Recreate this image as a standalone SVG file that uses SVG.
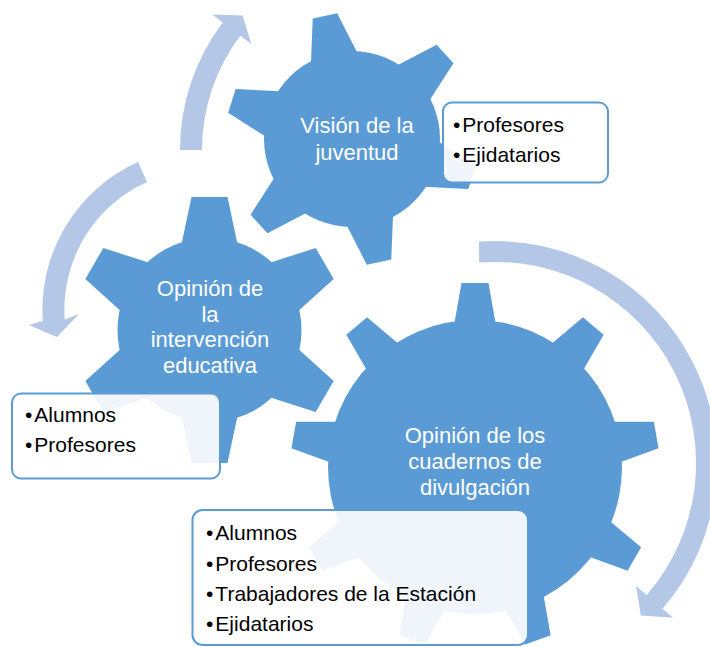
<svg xmlns="http://www.w3.org/2000/svg" xmlns:xlink="http://www.w3.org/1999/xlink" width="710" height="647" viewBox="0 0 710 647">
  <style>
    .gear { fill: #5b9bd5; }
    .arrow { fill: #b4c7e7; }
    .glabel { font-family: "Liberation Sans", Arial, sans-serif; font-size: 22px; fill: #ffffff; text-anchor: middle; }
    .box { fill: #ffffff; fill-opacity: 0.9; stroke: #5b9bd5; stroke-width: 2; }
    .item { font-family: "Liberation Sans", Arial, sans-serif; font-size: 21px; fill: #000000; }
  </style>
  <defs>
    <polygon id="tooth9" points="-21.6,-138 -13.5,-184 13.5,-184 21.6,-138"/>
    <polygon id="toothTop" points="-25.1,-78 -12.5,-126 12.5,-126 25.1,-78"/>
    <polygon id="toothLeft" points="-28.2,-85 -18,-133 18,-133 28.2,-85"/>
  </defs>
  <rect width="710" height="647" fill="#ffffff"/>

  <g id="connectors">
    <path class="arrow" d="M 180 150 A 212 212 0 0 1 222.7 22.4 L 212.3 14.6 L 242.6 15.5 L 251.4 44.1 L 240.3 35.7 A 190 190 0 0 0 202 150 Z"/>
    <path class="arrow" d="M 138 162 A 162 162 0 0 0 42.8 321 L 29 325 L 57 337 L 79 314 L 64.7 319.5 A 140 140 0 0 1 147 182 Z"/>
    <path class="arrow" d="M 479 241.6 A 222 222 0 0 1 662.5 608.7 L 673.1 617.8 L 640.8 615.6 L 636.1 585.7 L 646.7 594.9 A 201 201 0 0 0 479 262.6 Z"/>
  </g>

  <g id="gear-vision">
    <g class="gear" transform="translate(352,139)">
      <circle r="88"/>
      <use xlink:href="#toothTop" transform="rotate(-12.4)"/>
      <use xlink:href="#toothTop" transform="rotate(47.6)"/>
      <use xlink:href="#toothTop" transform="rotate(107.6)"/>
      <use xlink:href="#toothTop" transform="rotate(167.6)"/>
      <use xlink:href="#toothTop" transform="rotate(227.6)"/>
      <use xlink:href="#toothTop" transform="rotate(287.6)"/>
    </g>
    <text class="glabel" x="357" y="133">Visión de la</text>
    <text class="glabel" x="357" y="160">juventud</text>
  </g>

  <g id="gear-intervencion">
    <g class="gear" transform="translate(209.5,330)">
      <circle r="92"/>
      <use xlink:href="#toothLeft"/>
      <use xlink:href="#toothLeft" transform="rotate(60)"/>
      <use xlink:href="#toothLeft" transform="rotate(120)"/>
      <use xlink:href="#toothLeft" transform="rotate(180)"/>
      <use xlink:href="#toothLeft" transform="rotate(240)"/>
      <use xlink:href="#toothLeft" transform="rotate(300)"/>
    </g>
    <text class="glabel" x="210" y="296">Opinión de</text>
    <text class="glabel" x="210" y="322">la</text>
    <text class="glabel" x="210" y="347">intervención</text>
    <text class="glabel" x="210" y="373">educativa</text>
  </g>

  <g id="gear-cuadernos">
    <g class="gear" transform="translate(475,467)">
      <circle r="147"/>
      <use xlink:href="#tooth9"/>
      <use xlink:href="#tooth9" transform="rotate(40)"/>
      <use xlink:href="#tooth9" transform="rotate(80)"/>
      <use xlink:href="#tooth9" transform="rotate(120)"/>
      <use xlink:href="#tooth9" transform="rotate(160)"/>
      <use xlink:href="#tooth9" transform="rotate(200)"/>
      <use xlink:href="#tooth9" transform="rotate(240)"/>
      <use xlink:href="#tooth9" transform="rotate(280)"/>
      <use xlink:href="#tooth9" transform="rotate(320)"/>
    </g>
    <text class="glabel" x="475" y="443">Opinión de los</text>
    <text class="glabel" x="475" y="469">cuadernos de</text>
    <text class="glabel" x="475" y="495">divulgación</text>
  </g>

  <g id="box-vision">
    <rect class="box" x="443" y="102.5" width="165" height="80" rx="9"/>
    <text class="item" x="453" y="131.5">•<tspan dx="2">Profesores</tspan></text>
    <text class="item" x="453" y="161.5">•<tspan dx="2">Ejidatarios</tspan></text>
  </g>

  <g id="box-intervencion">
    <rect class="box" x="12" y="393.5" width="208" height="85" rx="9"/>
    <text class="item" x="25" y="421.5">•<tspan dx="2">Alumnos</tspan></text>
    <text class="item" x="25" y="451.5">•<tspan dx="2">Profesores</tspan></text>
  </g>

  <g id="box-cuadernos">
    <rect class="box" x="192.5" y="510" width="335.5" height="135" rx="10"/>
    <text class="item" x="206" y="539.5">•<tspan dx="2">Alumnos</tspan></text>
    <text class="item" x="206" y="570.5">•<tspan dx="2">Profesores</tspan></text>
    <text class="item" x="206" y="600.5">•<tspan dx="2">Trabajadores de la Estación</tspan></text>
    <text class="item" x="206" y="631">•<tspan dx="2">Ejidatarios</tspan></text>
  </g>
</svg>
